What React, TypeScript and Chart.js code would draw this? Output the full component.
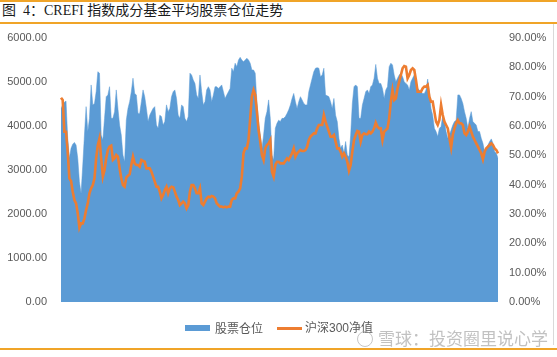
import React, { useEffect, useRef } from "react";
import { Chart, registerables } from "chart.js";

Chart.register(...registerables);

const TITLE = "图  4：CREFI 指数成分基金平均股票仓位走势";
const AREA_NAME = "股票仓位";
const LINE_NAME = "沪深300净值";
const WATERMARK = "雪球：投资圈里说心学";

// 股票仓位 (%), right axis
const stockPosition = [
  66.0, 67.2, 68.1, 68.5, 55.8, 49.0, 52.4, 53.8, 54.4, 53.5,
  49.0, 41.0, 37.0, 46.7, 56.9, 66.6, 58.1, 62.6, 74.0, 67.2,
  67.7, 71.7, 78.5, 78.0, 56.9, 55.2, 62.6, 70.0, 70.6, 73.4,
  62.6, 62.6, 64.9, 72.3, 66.0, 60.3, 56.9, 50.1, 47.8, 62.0,
  66.0, 68.3, 71.7, 76.3, 71.1, 70.6, 64.3, 64.3, 68.3, 72.3,
  70.0, 66.0, 61.5, 63.7, 64.9, 66.0, 66.6, 60.3, 59.2, 63.7,
  63.2, 60.3, 61.5, 67.2, 64.9, 66.0, 70.0, 71.7, 72.3, 69.4,
  63.7, 62.6, 67.2, 66.6, 62.6, 61.5, 63.2, 78.0, 77.4, 75.7,
  74.5, 70.6, 69.4, 77.4, 71.7, 67.2, 68.3, 72.3, 73.4, 72.3,
  68.3, 70.6, 73.4, 73.4, 72.8, 73.4, 74.0, 71.7, 69.4, 70.6,
  71.7, 72.8, 79.7, 78.5, 81.4, 80.2, 82.5, 83.4, 82.5, 81.9,
  82.5, 83.1, 82.5, 81.4, 79.1, 79.1, 78.0, 68.3, 61.5, 56.9,
  52.2, 56.9, 62.6, 64.9, 68.9, 62.6, 50.1, 48.4, 59.2, 60.9,
  62.0, 61.5,
  62.6, 62.6, 63.2, 64.3, 65.5, 67.2, 69.4, 71.1, 68.3, 66.0,
  68.3, 70.0, 68.9, 67.7, 67.2, 67.2, 71.7, 74.0, 76.3, 78.5,
  79.7, 79.9, 79.7, 76.8, 77.4, 79.7, 70.6, 70.3, 70.0, 68.3,
  66.0, 69.4, 63.7, 61.5, 55.8, 52.4, 53.5, 50.7, 54.7, 50.1,
  49.5, 56.9, 67.7, 73.4, 74.0, 73.4, 62.6, 62.6, 67.2, 69.4,
  71.7, 72.3, 71.1, 73.4, 74.0, 76.3, 81.0, 76.3, 74.5, 74.5,
  72.8, 69.4, 72.3, 73.4, 80.2, 81.4, 80.8, 77.4, 75.1, 76.3,
  77.4, 78.0, 76.8, 75.1, 74.5, 74.0, 72.3, 75.1, 76.3, 77.4,
  75.1, 72.8, 72.3, 71.7, 71.1, 71.1, 72.3, 76.0, 71.7, 66.0,
  63.7, 59.2, 58.1, 56.4, 59.2, 59.8, 63.7, 61.5, 58.1, 55.8,
  56.9, 58.6, 60.3, 61.5, 62.0, 70.6, 70.6, 69.4, 67.7, 64.9,
  62.6, 59.2, 62.6, 64.9, 61.5, 60.9, 60.3, 58.1, 58.1, 55.8,
  54.1, 51.2, 52.4, 53.5, 54.7, 55.6, 54.1, 51.2, 50.7, 49.0,
];

// 沪深300净值, left axis
const hs300 = [
  4644, 4591, 3871, 3871, 3417, 2811, 2750, 2508, 2318, 2242,
  2015, 1689, 1788, 1788, 1901, 2091, 2242, 2470, 2583, 2659,
  2811, 3265, 3568, 3720, 3265, 2848, 3000, 3265, 3455, 3530,
  3553, 3227, 3265, 3341, 3303, 3038, 2811, 2659, 2621, 2826,
  2871, 2901, 3114, 3303, 3151, 3114, 3114, 3076, 3227, 3205,
  3189, 3038, 3038, 3038, 2962, 2848, 2735, 2621, 2621, 2508,
  2356, 2432, 2545, 2621, 2470, 2583, 2621, 2606, 2508, 2394,
  2318, 2204, 2242, 2280, 2242, 2129, 2204, 2508, 2659, 2659,
  2583, 2470, 2470, 2583, 2242, 2204, 2280, 2356, 2394, 2379,
  2409, 2394, 2356, 2242, 2204, 2167, 2167, 2151, 2167, 2151,
  2167, 2167, 2318, 2356, 2356, 2470, 2508, 2583, 2848, 3379,
  3492, 3492, 3682, 4174, 4667, 4818, 4705, 4326, 3909, 3644,
  3341, 3227, 3492, 3568, 3606, 3682, 2962, 2848, 3114, 3189,
  3189, 3151,
  3151, 3151, 3205, 3265, 3227, 3303, 3379, 3492, 3303, 3379,
  3417, 3455, 3432, 3432, 3455, 3530, 3682, 3758, 3795, 3833,
  3833, 3947, 4023, 4023, 4023, 4250, 4098, 3985, 3871, 3758,
  3758, 3795, 3644, 3492, 3492, 3417, 3303, 3379, 3303, 3189,
  2985, 3114, 3417, 3682, 3795, 3886, 3871, 3644, 3795, 3833,
  3811, 3811, 3871, 3833, 3871, 3947, 4076, 3985, 3947, 3947,
  3682, 3871, 3909, 3947, 4174, 4553, 4818, 4591, 4629, 4856,
  5008, 5159, 5311, 5364, 5348, 5083, 5159, 5273, 5311, 5273,
  5045, 4780, 4780, 4780, 4856, 4894, 4894, 4932, 4667, 4553,
  4553, 4326, 4098, 4023, 4136, 4477, 4250, 4098, 4023, 3947,
  3720, 3508, 3795, 3947, 4061, 4136, 4061, 4061, 4023, 3833,
  3795, 3871, 3985, 3871, 3758, 3682, 3606, 3530, 3455, 3379,
  3242, 3417, 3492, 3530, 3568, 3606, 3568, 3492, 3455, 3379,
];

const categories = stockPosition.map((_, i) => String(i + 1));

const LEFT_MIN = 0;
const LEFT_MAX = 6000;
const LEFT_STEP = 1000;
const RIGHT_MIN = 0;
const RIGHT_MAX = 90;
const RIGHT_STEP = 10;

const BLUE = "#5B9BD5";
const ORANGE = "#ED7D31";
const GOLD = "#F0A428";
const TICK = "#595959";

export default function App() {
  const ref = useRef<HTMLCanvasElement | null>(null);

  useEffect(() => {
    if (!ref.current) return;
    const chart = new Chart(ref.current, {
      type: "line",
      data: {
        labels: categories,
        datasets: [
          {
            label: LINE_NAME,
            data: hs300,
            yAxisID: "y",
            borderColor: ORANGE,
            backgroundColor: ORANGE,
            borderWidth: 2.6,
            pointRadius: 0,
            fill: false,
            tension: 0,
          },
          {
            label: AREA_NAME,
            data: stockPosition,
            yAxisID: "y1",
            borderColor: BLUE,
            backgroundColor: BLUE,
            borderWidth: 0.5,
            pointRadius: 0,
            fill: "origin",
            tension: 0,
          },
        ],
      },
      options: {
        responsive: false,
        animation: false,
        events: [],
        layout: { padding: { left: 0, right: 0, top: 38, bottom: 55 } },
        plugins: {
          legend: { display: false },
          tooltip: { enabled: false },
          title: { display: false },
        },
        scales: {
          x: { type: "category", display: false, offset: false },
          y: {
            position: "left",
            min: LEFT_MIN,
            max: LEFT_MAX,
            ticks: {
              stepSize: LEFT_STEP,
              padding: 14,
              color: TICK,
              font: { family: "'Liberation Sans', Arial, sans-serif", size: 11 },
              callback: (v: any) => Number(v).toFixed(2),
            },
            grid: { display: false, drawTicks: false },
            border: { display: false },
            afterFit: (s: any) => {
              s.width = 61;
            },
          },
          y1: {
            position: "right",
            min: RIGHT_MIN,
            max: RIGHT_MAX,
            ticks: {
              stepSize: RIGHT_STEP,
              padding: 11,
              color: TICK,
              font: { family: "'Liberation Sans', Arial, sans-serif", size: 11 },
              callback: (v: any) => Number(v).toFixed(2) + "%",
            },
            grid: { display: false, drawTicks: false },
            border: { display: false },
            afterFit: (s: any) => {
              s.width = 59;
            },
          },
        },
      },
    });
    return () => chart.destroy();
  }, []);

  const cjk = "'Liberation Serif', 'Noto Sans CJK SC', serif";
  return (
    <div
      style={{
        position: "fixed",
        left: 0,
        top: 0,
        width: 557,
        height: 357,
        background: "#fff",
        overflow: "hidden",
      }}
    >
      <div style={{ position: "absolute", left: 0, top: 0, width: 557, height: 1.5, background: GOLD }} />
      <div
        style={{
          position: "absolute",
          left: 2,
          top: 2,
          fontFamily: cjk,
          fontSize: 14,
          lineHeight: "17px",
          color: "#1a1a1a",
          whiteSpace: "pre",
          fontWeight: 400,
        }}
      >
        {TITLE}
      </div>
      <div style={{ position: "absolute", left: 0, top: 22, width: 557, height: 1.5, background: GOLD }} />
      <div style={{ position: "absolute", left: 553, top: 24, width: 1, height: 321, background: "#D9D9D9" }} />
      <canvas ref={ref} width={557} height={357} style={{ position: "absolute", left: 0, top: 0 }} />
      {/* legend */}
      <div style={{ position: "absolute", left: 185, top: 325, width: 25, height: 6, background: BLUE }} />
      <div
        style={{
          position: "absolute",
          left: 215,
          top: 320,
          fontFamily: "'Noto Sans CJK SC', sans-serif",
          fontSize: 12,
          lineHeight: "16px",
          color: TICK,
          whiteSpace: "nowrap",
        }}
      >
        {AREA_NAME}
      </div>
      <div style={{ position: "absolute", left: 277, top: 327, width: 25, height: 2.5, background: ORANGE }} />
      <div
        style={{
          position: "absolute",
          left: 305,
          top: 320,
          fontFamily: "'Liberation Sans', 'Noto Sans CJK SC', sans-serif",
          fontSize: 12,
          lineHeight: "16px",
          color: TICK,
          whiteSpace: "nowrap",
        }}
      >
        {LINE_NAME}
      </div>
      {/* watermark */}
      <div
        style={{
          position: "absolute",
          left: 357,
          top: 331,
          width: 14,
          height: 14,
          borderRadius: "50%",
          border: "1.5px solid rgba(160,160,160,0.6)",
        }}
      />
      <div
        style={{
          position: "absolute",
          left: 378,
          top: 328,
          fontFamily: "'Noto Sans CJK SC', sans-serif",
          fontSize: 17,
          lineHeight: "20px",
          color: "rgba(160,160,160,0.65)",
          whiteSpace: "nowrap",
        }}
      >
        {WATERMARK}
      </div>
      <div style={{ position: "absolute", left: 0, top: 348, width: 557, height: 1.5, background: GOLD }} />
    </div>
  );
}
